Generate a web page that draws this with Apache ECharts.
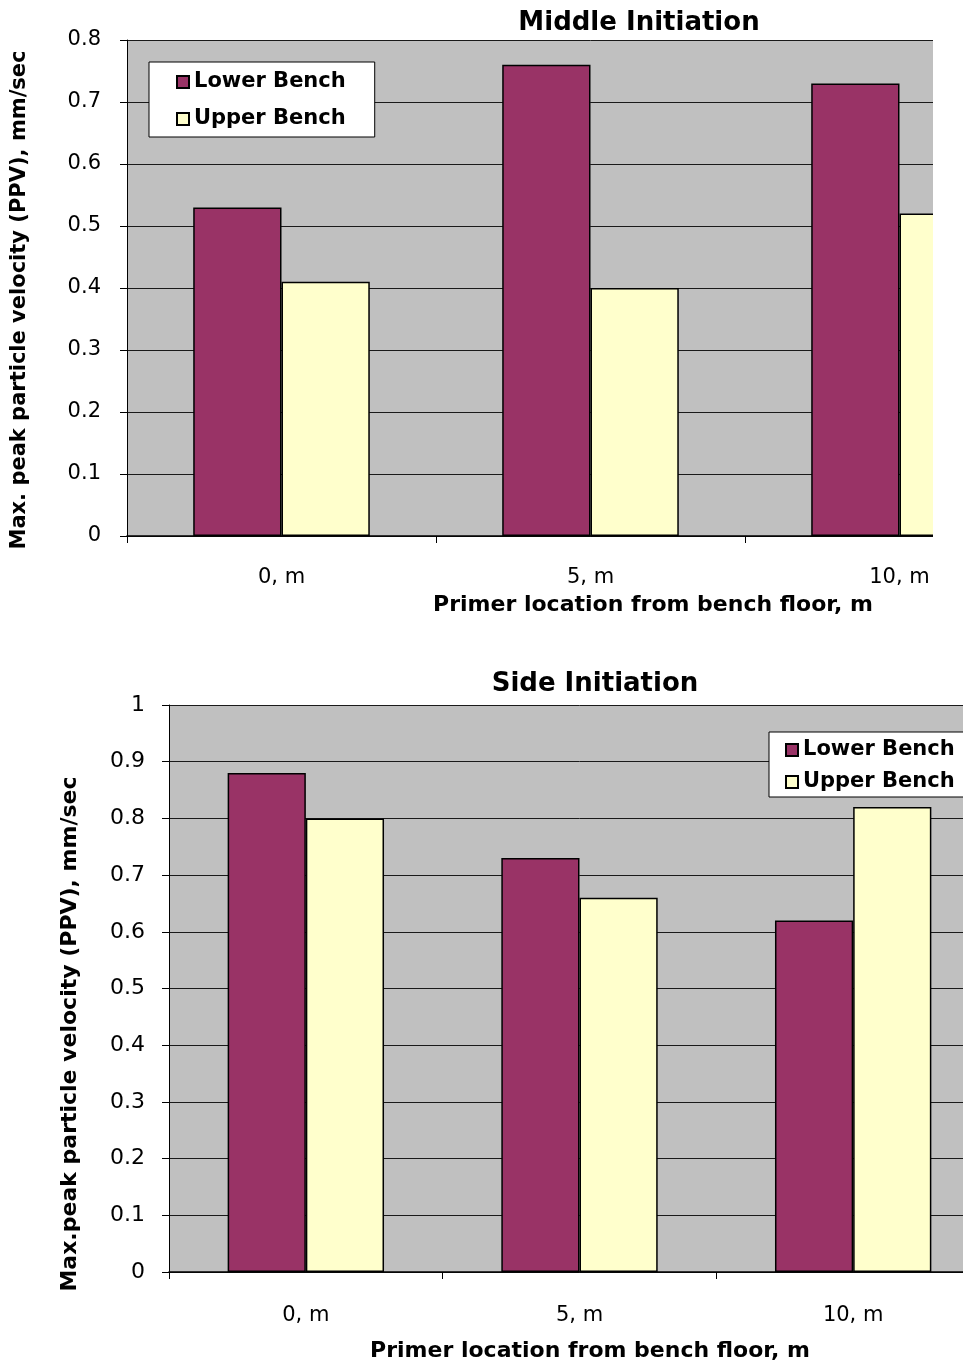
<!DOCTYPE html>
<html>
<head>
<meta charset="utf-8">
<script src="https://cdn.jsdelivr.net/npm/echarts@6/dist/echarts.min.js"></script>
<style>
  html, body { margin: 0; padding: 0; background: #ffffff; }
  .frame { position: absolute; left: 0; overflow: hidden; }
</style>
</head>
<body>
<div class="frame" style="top:0;width:933px;height:640px;"><div id="chartMiddle" style="width:1060px;height:640px;"></div></div>
<div class="frame" style="top:640px;width:963px;height:722px;"><div id="chartSide" style="width:1000px;height:722px;"></div></div>
<script>
// Primer locations (categories)
const categories = ['0, m', '5, m', '10, m'];
const seriesNames = ['Lower Bench', 'Upper Bench'];

// Middle initiation: max. PPV, mm/sec
const middleLower = [0.53, 0.76, 0.73];
const middleUpper = [0.41, 0.40, 0.52];

// Side initiation: max. PPV, mm/sec
const sideLower = [0.88, 0.73, 0.62];
const sideUpper = [0.80, 0.66, 0.82];

// Value axis scales
const middleScale = { min: 0, max: 0.8, interval: 0.1 };
const sideScale = { min: 0, max: 1, interval: 0.1 };

const FONT = '"DejaVu Sans", sans-serif';
const COLORS = ['#993366', '#FFFFCC'];

function fmtTick(v) {
  if (Math.abs(v) < 1e-9) return '0';
  if (Math.abs(v - Math.round(v)) < 1e-9) return String(Math.round(v));
  return v.toFixed(1);
}

function buildOption(cfg) {
  return {
    animation: false,
    textStyle: { fontFamily: FONT },
    grid: {
      left: cfg.grid.left, top: cfg.grid.top, width: cfg.grid.width, height: cfg.grid.height,
      show: true, backgroundColor: '#C0C0C0', borderWidth: 0, containLabel: false
    },
    legend: {
      orient: 'vertical',
      left: cfg.legend.left, top: cfg.legend.top,
      padding: cfg.legend.padding,
      itemGap: cfg.legend.itemGap,
      itemWidth: 12, itemHeight: 12,
      icon: 'rect',
      backgroundColor: '#ffffff', borderColor: '#000000', borderWidth: 1,
      textStyle: { fontFamily: FONT, fontSize: 21, fontWeight: 'bold', color: '#000', lineHeight: 24 },
      data: seriesNames
    },
    xAxis: {
      type: 'category',
      data: categories,
      boundaryGap: true,
      axisLine: { lineStyle: { color: '#000', width: 1.5 } },
      axisTick: { show: true, length: 7, lineStyle: { color: '#000', width: 1 } },
      axisLabel: { color: '#000', fontSize: 21, fontFamily: FONT, margin: cfg.xLabelMargin }
    },
    yAxis: {
      type: 'value',
      min: cfg.scale.min, max: cfg.scale.max, interval: cfg.scale.interval,
      axisLine: { show: true, lineStyle: { color: '#000', width: 1 } },
      axisTick: { show: true, length: 7, lineStyle: { color: '#000', width: 1 } },
      axisLabel: { color: '#000', fontSize: cfg.yLabelSize, fontFamily: FONT, margin: cfg.yLabelMargin, formatter: fmtTick },
      splitLine: { show: true, lineStyle: { color: '#1a1a1a', width: 1 } }
    },
    series: [
      {
        name: seriesNames[0], type: 'bar', data: cfg.lower,
        barGap: '0%', barCategoryGap: '42.86%',
        itemStyle: { color: COLORS[0], borderColor: '#000', borderWidth: 1.5 }
      },
      {
        name: seriesNames[1], type: 'bar', data: cfg.upper,
        barGap: '0%', barCategoryGap: '42.86%',
        itemStyle: { color: COLORS[1], borderColor: '#000', borderWidth: 1.5 }
      }
    ],
    graphic: [
      {
        type: 'text', x: cfg.title.x, y: cfg.title.y,
        style: { text: cfg.title.text, font: 'bold 26px ' + FONT, fill: '#000', align: 'center', verticalAlign: 'middle' }
      },
      {
        type: 'text', x: cfg.xName.x, y: cfg.xName.y,
        style: { text: 'Primer location from bench floor, m', font: 'bold 22px ' + FONT, fill: '#000', align: 'center', verticalAlign: 'middle' }
      },
      {
        type: 'text', x: cfg.yName.x, y: cfg.yName.y, rotation: Math.PI / 2,
        style: { text: cfg.yName.text, font: 'bold ' + cfg.yName.size + 'px ' + FONT, fill: '#000', align: 'center', verticalAlign: 'middle' }
      }
    ]
  };
}

const middleChart = echarts.init(document.getElementById('chartMiddle'), null, { renderer: 'canvas' });
middleChart.setOption(buildOption({
  grid: { left: 127, top: 40, width: 927, height: 496 },
  scale: middleScale,
  lower: middleLower, upper: middleUpper,
  legend: { left: 149, top: 62, padding: [8, 29, 6, 27], itemGap: 13 },
  xLabelMargin: 31, yLabelMargin: 26, yLabelSize: 21,
  title: { text: 'Middle Initiation', x: 639, y: 23 },
  xName: { x: 653, y: 605 },
  yName: { text: 'Max. peak particle velocity (PPV), mm/sec', x: 20, y: 300, size: 21 }
}));

const sideChart = echarts.init(document.getElementById('chartSide'), null, { renderer: 'canvas' });
sideChart.setOption(buildOption({
  grid: { left: 169, top: 65, width: 821, height: 567 },
  scale: sideScale,
  lower: sideLower, upper: sideUpper,
  legend: { left: 769, top: 92, padding: [6, 12, 3, 16], itemGap: 8 },
  xLabelMargin: 33, yLabelMargin: 24, yLabelSize: 22,
  title: { text: 'Side Initiation', x: 595, y: 44 },
  xName: { x: 590, y: 711 },
  yName: { text: 'Max.peak particle velocity (PPV), mm/sec', x: 70, y: 394, size: 22 }
}));
</script>
</body>
</html>
